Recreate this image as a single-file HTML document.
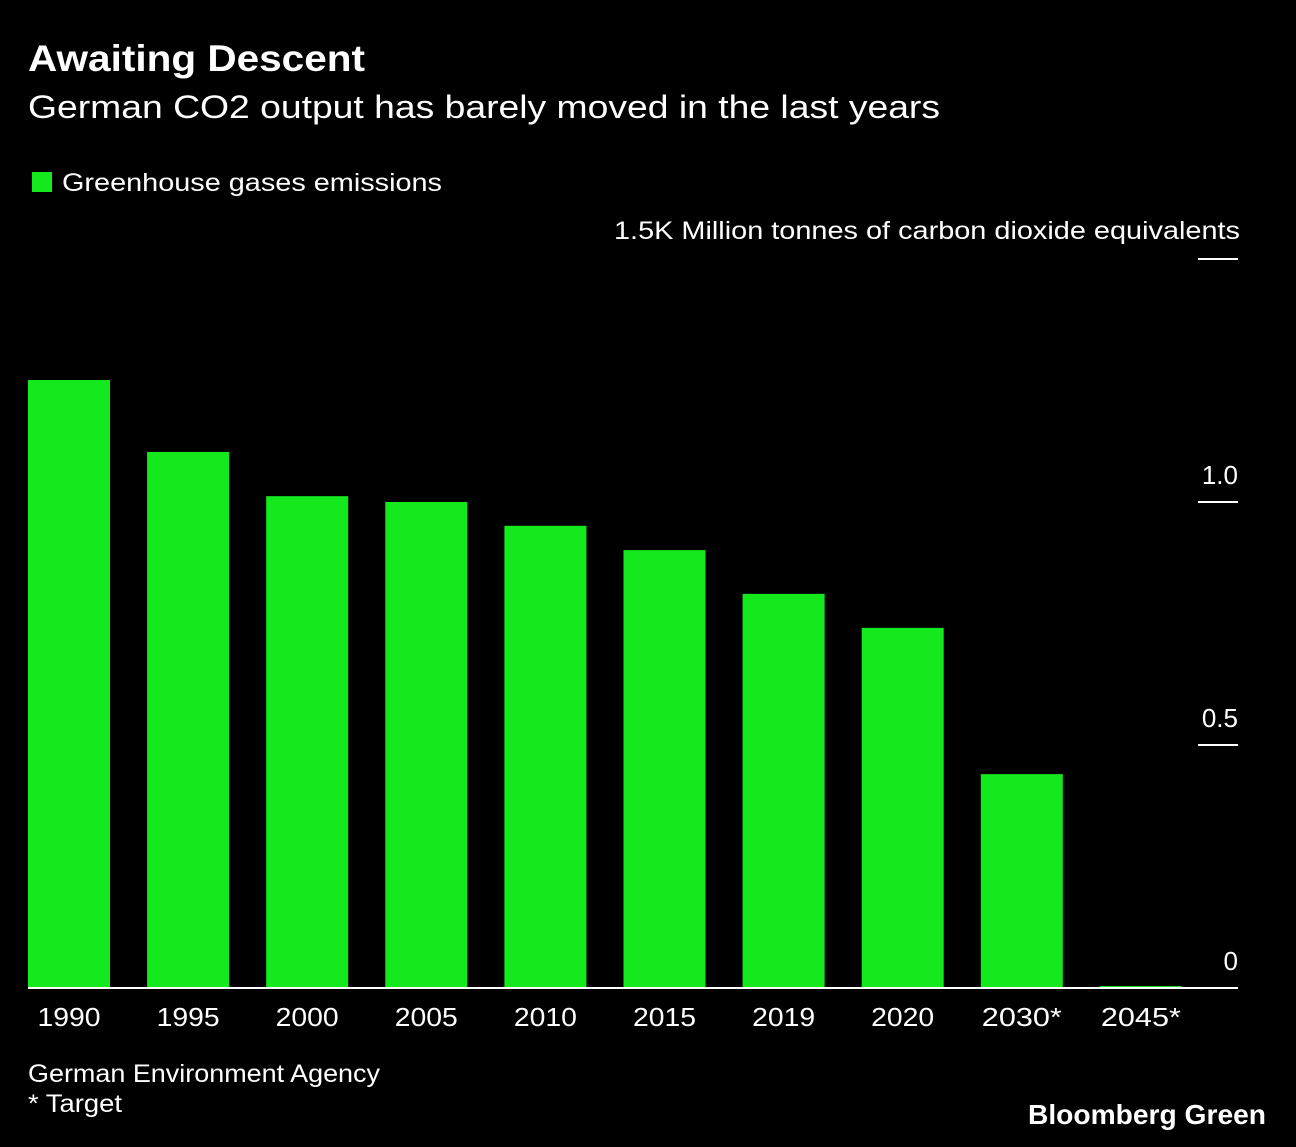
<!DOCTYPE html>
<html><head><meta charset="utf-8">
<style>
html,body{margin:0;padding:0;background:#000;}
body{width:1296px;height:1142px;overflow:hidden;font-family:"Liberation Sans",Arial,sans-serif;color:#fff;}
svg text{font-family:"Liberation Sans",Arial,sans-serif;fill:#fff;}
</style></head>
<body>
<svg id="chart" width="1296" height="1142" xmlns="http://www.w3.org/2000/svg">
<text x="28" y="71" font-size="37" font-weight="bold" textLength="337" lengthAdjust="spacingAndGlyphs">Awaiting Descent</text>
<text x="28" y="118" font-size="32" textLength="912" lengthAdjust="spacingAndGlyphs">German CO2 output has barely moved in the last years</text>
<rect x="32" y="172" width="20" height="20" fill="#13e91d"/>
<text x="62" y="191" font-size="25" textLength="380" lengthAdjust="spacingAndGlyphs">Greenhouse gases emissions</text>
<text x="614" y="239" font-size="25" textLength="626" lengthAdjust="spacingAndGlyphs">1.5K Million tonnes of carbon dioxide equivalents</text>
<g id="bars"></g>
<g id="yaxis"></g>
<g id="xaxis"></g>
<text x="28" y="1082" font-size="25" textLength="352" lengthAdjust="spacingAndGlyphs">German Environment Agency</text>
<text x="28" y="1112" font-size="25" textLength="94" lengthAdjust="spacingAndGlyphs">* Target</text>
<text x="1028" y="1124" font-size="28" font-weight="bold" textLength="238" lengthAdjust="spacingAndGlyphs">Bloomberg Green</text>
<g id="dummy"></g>
</svg>
<script>
const categories = ["1990","1995","2000","2005","2010","2015","2019","2020","2030*","2045*"];
const values = [1.251,1.103,1.012,1.0,0.951,0.901,0.811,0.741,0.44,0.004];
const tickValues = [0,0.5,1.0,1.5];
const tickLabels = ["0","0.5","1.0",""];

const NS="http://www.w3.org/2000/svg";
const y0=988, pxPerUnit=486;
const yScale=v=>y0-v*pxPerUnit;
const x0=28, step=119.1, bw=82;
const xScale=i=>x0+i*step;
const bars=document.getElementById('bars');
const yaxis=document.getElementById('yaxis');
const xaxis=document.getElementById('xaxis');

categories.forEach((c,i)=>{
  const r=document.createElementNS(NS,'rect');
  const y=yScale(values[i]);
  r.setAttribute('x',xScale(i));
  r.setAttribute('y',y);
  r.setAttribute('width',bw);
  r.setAttribute('height',Math.max(y0-y,1));
  r.setAttribute('fill','#13e91d');
  
  
  bars.appendChild(r);
  const t=document.createElementNS(NS,'text');
  t.setAttribute('x',xScale(i)+bw/2);
  t.setAttribute('y',1026);
  t.setAttribute('font-size','26');
  t.setAttribute('text-anchor','middle');
  t.setAttribute('textLength', c.length===5 ? 80 : 63);
  t.setAttribute('lengthAdjust','spacingAndGlyphs');
  t.textContent=c;
  
  
  xaxis.appendChild(t);
});

tickValues.forEach((v,i)=>{
  const y=yScale(v);
  const l=document.createElementNS(NS,'line');
  l.setAttribute('x1',v===0?28:1198);
  l.setAttribute('x2',1238);
  l.setAttribute('y1',y);l.setAttribute('y2',y);
  l.setAttribute('stroke','#fff');l.setAttribute('stroke-width','2');
  
  
  yaxis.appendChild(l);
  if(tickLabels[i]){
    const t=document.createElementNS(NS,'text');
    t.setAttribute('x',1238);
    t.setAttribute('y',y-18);
    t.setAttribute('font-size','26');
    t.setAttribute('text-anchor','end');
    t.textContent=tickLabels[i];
    
    
    yaxis.appendChild(t);
  }
});
</script>
</body></html>
